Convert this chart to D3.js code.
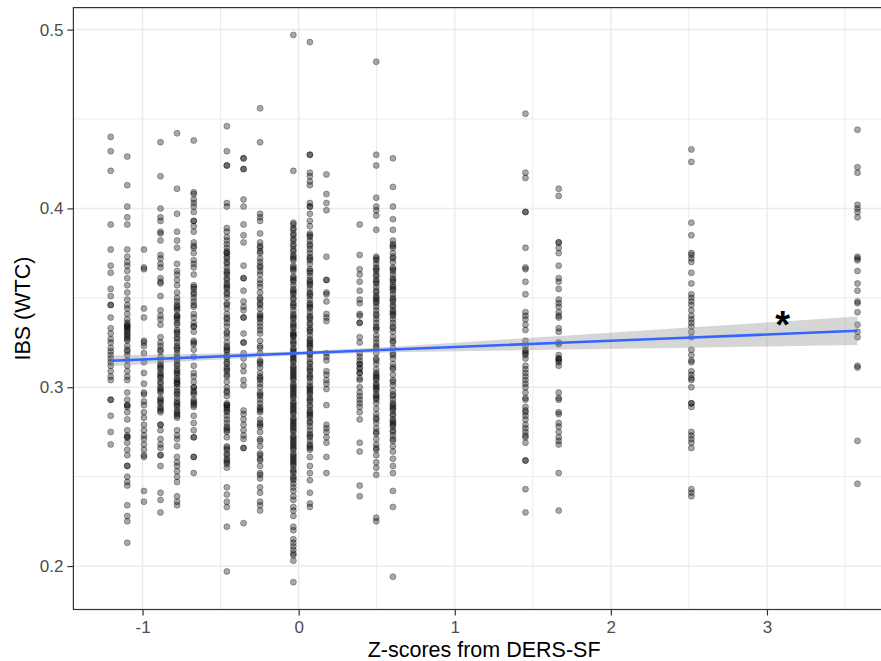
<!DOCTYPE html>
<html>
<head>
<meta charset="utf-8">
<script src="https://cdn.jsdelivr.net/npm/d3@7"></script>
<style>
  body { margin: 0; background: #fff; }
  svg { display: block; font-family: "Liberation Sans", Arial, sans-serif; }
</style>
</head>
<body>
<script>
// DERS-SF z-score levels (x) and the IBS (WTC) values seen at each level
const dersZ = [-1.204, -1.098, -0.991, -0.885, -0.779, -0.672, -0.460, -0.353, -0.247,
  -0.034, 0.072, 0.178, 0.391, 0.497, 0.604, 1.453, 1.666, 2.516, 3.58];

const ibsByLevel = [
  [0.440, 0.432, 0.421, 0.391, 0.377, 0.368, 0.364, 0.355, 0.351, 0.346, 0.346, 0.339, 0.333, 0.330, 0.327, 0.325, 0.322, 0.320, 0.318, 0.316, 0.314, 0.312, 0.309, 0.306, 0.304, 0.293, 0.293, 0.284, 0.275, 0.268],
  [0.429, 0.413, 0.401, 0.395, 0.391, 0.377, 0.373, 0.370, 0.368, 0.365, 0.361, 0.357, 0.353, 0.349, 0.346, 0.344, 0.341, 0.338, 0.336, 0.335, 0.334, 0.334, 0.333, 0.332, 0.331, 0.330, 0.329, 0.328, 0.327, 0.326, 0.323, 0.321, 0.320, 0.318, 0.315, 0.312, 0.309, 0.306, 0.304, 0.297, 0.293, 0.290, 0.290, 0.289, 0.286, 0.282, 0.276, 0.273, 0.272, 0.272, 0.269, 0.265, 0.262, 0.256, 0.256, 0.250, 0.247, 0.245, 0.234, 0.228, 0.225, 0.213],
  [0.377, 0.367, 0.366, 0.344, 0.339, 0.326, 0.325, 0.323, 0.319, 0.314, 0.308, 0.302, 0.297, 0.296, 0.292, 0.290, 0.286, 0.283, 0.279, 0.276, 0.273, 0.271, 0.268, 0.265, 0.262, 0.261, 0.242, 0.236],
  [0.437, 0.418, 0.400, 0.395, 0.393, 0.387, 0.386, 0.382, 0.374, 0.372, 0.369, 0.367, 0.361, 0.359, 0.358, 0.351, 0.343, 0.340, 0.338, 0.335, 0.328, 0.325, 0.323, 0.321, 0.320, 0.317, 0.315, 0.313, 0.312, 0.311, 0.310, 0.308, 0.307, 0.306, 0.305, 0.303, 0.302, 0.300, 0.299, 0.298, 0.297, 0.294, 0.293, 0.292, 0.291, 0.289, 0.288, 0.287, 0.286, 0.279, 0.279, 0.276, 0.271, 0.268, 0.266, 0.262, 0.262, 0.256, 0.241, 0.237, 0.230],
  [0.442, 0.411, 0.397, 0.387, 0.382, 0.378, 0.369, 0.365, 0.363, 0.360, 0.357, 0.353, 0.350, 0.348, 0.346, 0.345, 0.344, 0.343, 0.340, 0.340, 0.339, 0.338, 0.336, 0.335, 0.332, 0.331, 0.330, 0.328, 0.327, 0.325, 0.323, 0.322, 0.321, 0.319, 0.317, 0.316, 0.315, 0.313, 0.312, 0.310, 0.309, 0.308, 0.307, 0.305, 0.304, 0.303, 0.302, 0.302, 0.300, 0.298, 0.297, 0.296, 0.294, 0.292, 0.291, 0.290, 0.289, 0.287, 0.286, 0.285, 0.284, 0.283, 0.276, 0.273, 0.271, 0.267, 0.261, 0.258, 0.256, 0.253, 0.250, 0.247, 0.239, 0.236, 0.234],
  [0.438, 0.409, 0.408, 0.405, 0.403, 0.401, 0.398, 0.393, 0.393, 0.390, 0.387, 0.381, 0.379, 0.378, 0.375, 0.371, 0.369, 0.367, 0.363, 0.357, 0.356, 0.355, 0.353, 0.352, 0.350, 0.348, 0.346, 0.345, 0.341, 0.339, 0.336, 0.334, 0.334, 0.331, 0.326, 0.325, 0.324, 0.321, 0.317, 0.312, 0.308, 0.306, 0.303, 0.300, 0.300, 0.298, 0.297, 0.296, 0.293, 0.292, 0.291, 0.290, 0.289, 0.284, 0.280, 0.276, 0.272, 0.272, 0.261, 0.261, 0.252],
  [0.446, 0.432, 0.424, 0.424, 0.403, 0.401, 0.389, 0.387, 0.384, 0.382, 0.380, 0.378, 0.376, 0.375, 0.375, 0.373, 0.372, 0.370, 0.369, 0.367, 0.365, 0.364, 0.363, 0.361, 0.360, 0.358, 0.357, 0.356, 0.355, 0.353, 0.352, 0.350, 0.347, 0.346, 0.344, 0.341, 0.339, 0.338, 0.336, 0.334, 0.331, 0.330, 0.328, 0.325, 0.323, 0.322, 0.321, 0.320, 0.318, 0.317, 0.316, 0.314, 0.313, 0.311, 0.310, 0.309, 0.307, 0.306, 0.303, 0.300, 0.298, 0.297, 0.295, 0.291, 0.290, 0.290, 0.289, 0.288, 0.287, 0.286, 0.284, 0.282, 0.280, 0.278, 0.277, 0.276, 0.275, 0.272, 0.267, 0.266, 0.265, 0.263, 0.262, 0.260, 0.259, 0.258, 0.257, 0.255, 0.244, 0.240, 0.236, 0.233, 0.222, 0.197],
  [0.428, 0.428, 0.422, 0.422, 0.405, 0.401, 0.391, 0.385, 0.381, 0.368, 0.361, 0.361, 0.354, 0.348, 0.345, 0.343, 0.339, 0.339, 0.330, 0.325, 0.325, 0.319, 0.316, 0.312, 0.309, 0.304, 0.301, 0.287, 0.285, 0.282, 0.279, 0.276, 0.273, 0.271, 0.266, 0.266, 0.224],
  [0.456, 0.437, 0.397, 0.395, 0.393, 0.386, 0.381, 0.379, 0.378, 0.376, 0.375, 0.372, 0.370, 0.368, 0.367, 0.365, 0.363, 0.360, 0.358, 0.356, 0.353, 0.350, 0.349, 0.347, 0.346, 0.344, 0.341, 0.340, 0.339, 0.338, 0.336, 0.334, 0.332, 0.330, 0.326, 0.323, 0.322, 0.319, 0.315, 0.314, 0.313, 0.311, 0.308, 0.306, 0.305, 0.304, 0.302, 0.300, 0.297, 0.296, 0.295, 0.293, 0.291, 0.289, 0.288, 0.287, 0.286, 0.282, 0.280, 0.279, 0.278, 0.275, 0.271, 0.270, 0.267, 0.263, 0.262, 0.260, 0.259, 0.256, 0.252, 0.251, 0.249, 0.244, 0.241, 0.236, 0.234, 0.231],
  [0.497, 0.421, 0.392, 0.391, 0.389, 0.388, 0.386, 0.385, 0.383, 0.382, 0.380, 0.379, 0.377, 0.376, 0.374, 0.373, 0.372, 0.371, 0.368, 0.367, 0.366, 0.365, 0.362, 0.361, 0.360, 0.359, 0.357, 0.355, 0.354, 0.353, 0.352, 0.350, 0.349, 0.347, 0.346, 0.345, 0.343, 0.341, 0.340, 0.339, 0.338, 0.336, 0.335, 0.334, 0.333, 0.331, 0.330, 0.329, 0.329, 0.328, 0.326, 0.325, 0.324, 0.322, 0.321, 0.320, 0.319, 0.318, 0.317, 0.316, 0.315, 0.314, 0.312, 0.311, 0.310, 0.309, 0.308, 0.307, 0.306, 0.305, 0.304, 0.302, 0.301, 0.300, 0.299, 0.298, 0.297, 0.296, 0.295, 0.294, 0.292, 0.291, 0.290, 0.289, 0.288, 0.287, 0.286, 0.285, 0.283, 0.282, 0.281, 0.280, 0.279, 0.278, 0.277, 0.276, 0.275, 0.273, 0.272, 0.271, 0.270, 0.269, 0.268, 0.267, 0.266, 0.265, 0.263, 0.262, 0.261, 0.260, 0.259, 0.258, 0.257, 0.256, 0.254, 0.253, 0.252, 0.250, 0.249, 0.248, 0.246, 0.244, 0.242, 0.239, 0.237, 0.233, 0.231, 0.228, 0.222, 0.220, 0.215, 0.213, 0.211, 0.209, 0.207, 0.206, 0.203, 0.191],
  [0.493, 0.430, 0.430, 0.420, 0.418, 0.415, 0.413, 0.403, 0.401, 0.401, 0.397, 0.393, 0.390, 0.386, 0.385, 0.384, 0.382, 0.380, 0.379, 0.377, 0.375, 0.373, 0.372, 0.371, 0.369, 0.366, 0.365, 0.364, 0.362, 0.360, 0.359, 0.358, 0.357, 0.355, 0.353, 0.352, 0.351, 0.349, 0.347, 0.346, 0.345, 0.344, 0.342, 0.340, 0.339, 0.338, 0.336, 0.335, 0.333, 0.332, 0.331, 0.329, 0.327, 0.326, 0.325, 0.324, 0.323, 0.322, 0.320, 0.319, 0.318, 0.316, 0.314, 0.313, 0.311, 0.310, 0.309, 0.307, 0.306, 0.305, 0.303, 0.301, 0.300, 0.299, 0.298, 0.297, 0.296, 0.294, 0.293, 0.292, 0.290, 0.289, 0.287, 0.286, 0.285, 0.284, 0.283, 0.281, 0.280, 0.278, 0.276, 0.274, 0.273, 0.272, 0.270, 0.268, 0.267, 0.266, 0.265, 0.261, 0.256, 0.252, 0.248, 0.241, 0.235, 0.233],
  [0.419, 0.408, 0.403, 0.399, 0.373, 0.360, 0.360, 0.353, 0.352, 0.348, 0.341, 0.339, 0.337, 0.319, 0.317, 0.315, 0.309, 0.307, 0.304, 0.302, 0.299, 0.290, 0.279, 0.277, 0.275, 0.272, 0.269, 0.261, 0.252],
  [0.391, 0.374, 0.366, 0.363, 0.359, 0.354, 0.349, 0.347, 0.341, 0.340, 0.336, 0.336, 0.328, 0.325, 0.319, 0.317, 0.315, 0.313, 0.313, 0.311, 0.310, 0.308, 0.308, 0.305, 0.304, 0.300, 0.297, 0.295, 0.293, 0.291, 0.289, 0.286, 0.282, 0.269, 0.264, 0.245, 0.239],
  [0.482, 0.430, 0.424, 0.406, 0.401, 0.399, 0.396, 0.388, 0.373, 0.372, 0.371, 0.369, 0.367, 0.366, 0.365, 0.363, 0.362, 0.360, 0.359, 0.358, 0.356, 0.354, 0.353, 0.351, 0.350, 0.349, 0.348, 0.347, 0.345, 0.343, 0.341, 0.340, 0.338, 0.336, 0.334, 0.333, 0.332, 0.329, 0.327, 0.325, 0.323, 0.322, 0.319, 0.316, 0.315, 0.313, 0.310, 0.308, 0.307, 0.306, 0.305, 0.304, 0.302, 0.301, 0.300, 0.299, 0.298, 0.296, 0.295, 0.294, 0.293, 0.291, 0.288, 0.285, 0.283, 0.282, 0.280, 0.277, 0.275, 0.274, 0.271, 0.268, 0.266, 0.265, 0.262, 0.258, 0.255, 0.251, 0.227, 0.225],
  [0.428, 0.412, 0.401, 0.394, 0.388, 0.382, 0.380, 0.379, 0.378, 0.375, 0.373, 0.372, 0.370, 0.367, 0.366, 0.365, 0.363, 0.361, 0.360, 0.359, 0.357, 0.356, 0.355, 0.354, 0.352, 0.350, 0.349, 0.348, 0.346, 0.345, 0.343, 0.342, 0.341, 0.340, 0.338, 0.336, 0.334, 0.333, 0.331, 0.328, 0.326, 0.325, 0.322, 0.319, 0.318, 0.316, 0.313, 0.311, 0.310, 0.307, 0.304, 0.303, 0.301, 0.298, 0.296, 0.295, 0.293, 0.291, 0.290, 0.289, 0.288, 0.287, 0.285, 0.284, 0.282, 0.281, 0.280, 0.279, 0.278, 0.276, 0.275, 0.273, 0.271, 0.270, 0.267, 0.264, 0.260, 0.256, 0.252, 0.242, 0.233, 0.194],
  [0.453, 0.420, 0.417, 0.398, 0.398, 0.378, 0.367, 0.366, 0.359, 0.352, 0.342, 0.340, 0.338, 0.335, 0.332, 0.326, 0.323, 0.321, 0.320, 0.319, 0.318, 0.316, 0.312, 0.310, 0.308, 0.306, 0.304, 0.302, 0.300, 0.297, 0.294, 0.293, 0.289, 0.287, 0.286, 0.284, 0.282, 0.279, 0.277, 0.275, 0.273, 0.272, 0.269, 0.259, 0.259, 0.243, 0.230],
  [0.411, 0.407, 0.381, 0.381, 0.378, 0.375, 0.368, 0.361, 0.359, 0.355, 0.349, 0.347, 0.345, 0.342, 0.340, 0.339, 0.333, 0.331, 0.325, 0.324, 0.318, 0.316, 0.316, 0.315, 0.314, 0.312, 0.297, 0.294, 0.293, 0.286, 0.285, 0.280, 0.278, 0.275, 0.272, 0.270, 0.268, 0.252, 0.231],
  [0.433, 0.426, 0.392, 0.385, 0.375, 0.374, 0.372, 0.370, 0.364, 0.358, 0.352, 0.350, 0.348, 0.346, 0.343, 0.340, 0.338, 0.336, 0.334, 0.331, 0.328, 0.321, 0.318, 0.315, 0.314, 0.309, 0.307, 0.305, 0.304, 0.300, 0.291, 0.291, 0.289, 0.275, 0.273, 0.271, 0.269, 0.266, 0.243, 0.241, 0.239],
  [0.444, 0.423, 0.420, 0.402, 0.400, 0.398, 0.395, 0.373, 0.372, 0.371, 0.365, 0.358, 0.354, 0.348, 0.347, 0.342, 0.335, 0.331, 0.328, 0.312, 0.311, 0.270, 0.246]
];

// linear fit and its confidence band
const fitX     = [-1.204, -0.6, 0, 0.6, 1.2, 1.8, 2.4, 3.0, 3.58];
const fitY     = [0.3148, 0.3169, 0.3190, 0.3211, 0.3232, 0.3253, 0.3274, 0.3295, 0.3316];
const fitUpper = [0.3178, 0.3187, 0.3200, 0.3227, 0.3260, 0.3294, 0.3328, 0.3362, 0.3396];
const fitLower = [0.3118, 0.3151, 0.3180, 0.3195, 0.3204, 0.3212, 0.3220, 0.3228, 0.3236];

const xTicks = [-1, 0, 1, 2, 3];
const yTicks = [0.2, 0.3, 0.4, 0.5];
const xMinor = [-0.5, 0.5, 1.5, 2.5, 3.5];
const yMinor = [0.25, 0.35, 0.45];

const starX = 3.1, starY = 0.339;

const W = 881, H = 661;
const panel = { left: 73.4, right: 894.8, top: 7.6, bottom: 609.5 };

const x = d3.scaleLinear().domain([-1.443, 3.819]).range([panel.left, panel.right]);
const y = d3.scaleLinear().domain([0.1757, 0.5123]).range([panel.bottom, panel.top]);

const svg = d3.select('body').append('svg')
  .attr('width', W).attr('height', H);

svg.append('defs').append('clipPath').attr('id', 'clip')
  .append('rect')
  .attr('x', panel.left).attr('y', panel.top)
  .attr('width', panel.right - panel.left).attr('height', panel.bottom - panel.top);

const plot = svg.append('g').attr('clip-path', 'url(#clip)');

// grid lines
plot.selectAll('.vminor').data(xMinor).enter().append('line')
  .attr('x1', d => x(d)).attr('x2', d => x(d))
  .attr('y1', panel.top).attr('y2', panel.bottom)
  .attr('stroke', '#ebebeb').attr('stroke-width', 1);
plot.selectAll('.hminor').data(yMinor).enter().append('line')
  .attr('y1', d => y(d)).attr('y2', d => y(d))
  .attr('x1', panel.left).attr('x2', panel.right)
  .attr('stroke', '#ebebeb').attr('stroke-width', 1);
plot.selectAll('.vmajor').data(xTicks).enter().append('line')
  .attr('x1', d => x(d)).attr('x2', d => x(d))
  .attr('y1', panel.top).attr('y2', panel.bottom)
  .attr('stroke', '#ebebeb').attr('stroke-width', 1.5);
plot.selectAll('.hmajor').data(yTicks).enter().append('line')
  .attr('y1', d => y(d)).attr('y2', d => y(d))
  .attr('x1', panel.left).attr('x2', panel.right)
  .attr('stroke', '#ebebeb').attr('stroke-width', 1.5);

// points
const pts = [];
dersZ.forEach((z, i) => ibsByLevel[i].forEach(v => pts.push({ z: z, v: v })));

plot.selectAll('.pt').data(pts).enter().append('circle')
  .attr('class', 'pt')
  .attr('cx', d => x(d.z))
  .attr('cy', d => y(d.v))
  .attr('r', 3)
  .attr('fill', '#000').attr('fill-opacity', 0.34)
  .attr('stroke', '#000').attr('stroke-opacity', 0.34).attr('stroke-width', 0.9);

// smooth band + line
const fit = fitX.map((fx, i) => ({ x: fx, y: fitY[i], lo: fitLower[i], hi: fitUpper[i] }));

plot.append('path').datum(fit)
  .attr('d', d3.area().x(d => x(d.x)).y0(d => y(d.lo)).y1(d => y(d.hi)))
  .attr('fill', '#999999').attr('fill-opacity', 0.4);

plot.append('path').datum(fit)
  .attr('d', d3.line().x(d => x(d.x)).y(d => y(d.y)))
  .attr('fill', 'none').attr('stroke', '#3366ff').attr('stroke-width', 2.6);

// asterisk
svg.append('text')
  .attr('x', x(starX)).attr('y', y(starY))
  .attr('dy', 21)
  .attr('text-anchor', 'middle')
  .attr('font-size', 38).attr('font-weight', 'bold')
  .attr('fill', '#000')
  .text('*');

// panel border
svg.append('rect')
  .attr('x', panel.left).attr('y', panel.top)
  .attr('width', panel.right - panel.left).attr('height', panel.bottom - panel.top)
  .attr('fill', 'none').attr('stroke', '#333333').attr('stroke-width', 1.2);

// axes
const xAxis = svg.append('g')
  .attr('transform', `translate(0,${panel.bottom})`)
  .call(d3.axisBottom(x).tickValues(xTicks).tickSize(6).tickPadding(5).tickFormat(d => String(d)));
const yAxis = svg.append('g')
  .attr('transform', `translate(${panel.left},0)`)
  .call(d3.axisLeft(y).tickValues(yTicks).tickSize(6).tickPadding(4).tickFormat(d3.format('.1f')));

[xAxis, yAxis].forEach(a => {
  a.select('.domain').remove();
  a.selectAll('.tick line').attr('stroke', '#333333').attr('stroke-width', 1.2);
  a.selectAll('.tick text')
    .attr('fill', '#4d4d4d')
    .attr('font-size', 17)
    .attr('font-family', '"Liberation Sans", Arial, sans-serif');
});

// axis titles
svg.append('text')
  .attr('x', (panel.left + panel.right) / 2).attr('y', 657)
  .attr('text-anchor', 'middle')
  .attr('font-size', 21.5).attr('fill', '#000')
  .text('Z-scores from DERS-SF');

svg.append('text')
  .attr('transform', `translate(29.5,${(panel.top + panel.bottom) / 2}) rotate(-90)`)
  .attr('text-anchor', 'middle')
  .attr('font-size', 21.5).attr('fill', '#000')
  .text('IBS (WTC)');
</script>
</body>
</html>
